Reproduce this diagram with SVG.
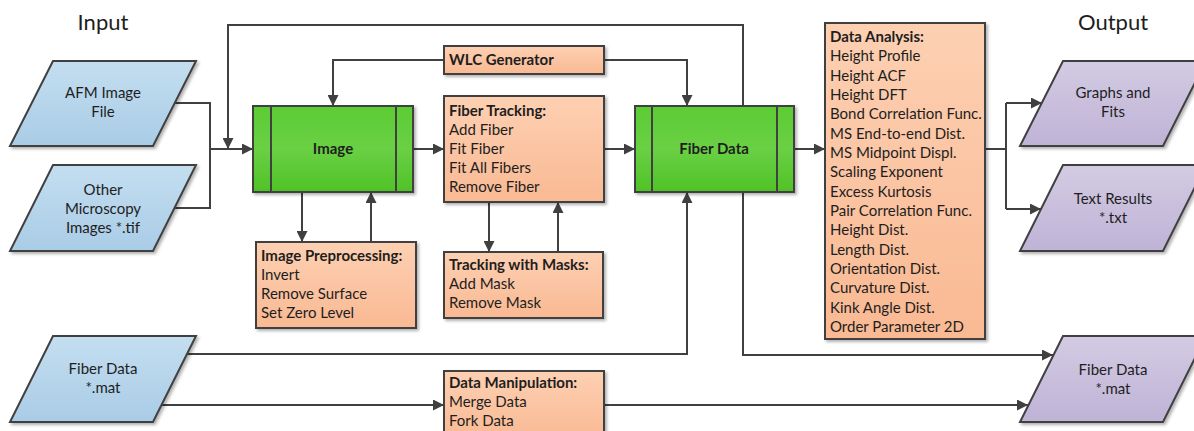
<svg xmlns="http://www.w3.org/2000/svg" width="1194" height="431" viewBox="0 0 1194 431">
  <defs>
    <linearGradient id="gBlue" x1="0" y1="0" x2="0" y2="1">
      <stop offset="0" stop-color="#c4def0"/>
      <stop offset="1" stop-color="#a9cce6"/>
    </linearGradient>
    <linearGradient id="gPurple" x1="0" y1="0" x2="0" y2="1">
      <stop offset="0" stop-color="#d3cbe3"/>
      <stop offset="1" stop-color="#bfb3d6"/>
    </linearGradient>
    <linearGradient id="gGreen" x1="0" y1="0" x2="0" y2="1">
      <stop offset="0" stop-color="#5ccc34"/>
      <stop offset="0.5" stop-color="#6ad044"/>
      <stop offset="1" stop-color="#4fc226"/>
    </linearGradient>
    <linearGradient id="gOrange" x1="0" y1="0" x2="0" y2="1">
      <stop offset="0" stop-color="#fdd0b2"/>
      <stop offset="1" stop-color="#f9b993"/>
    </linearGradient>
    <filter id="shadow" x="-10%" y="-10%" width="120%" height="130%">
      <feDropShadow dx="2" dy="2" stdDeviation="1.5" flood-color="#000" flood-opacity="0.3"/>
    </filter>
    <marker id="arrow" markerUnits="userSpaceOnUse" markerWidth="12" markerHeight="11" refX="11" refY="5.5" orient="auto">
      <path d="M0,0 L11,5.5 L0,11 z" fill="#404040"/>
    </marker>
  </defs>
  <style>
    .shape { stroke: #404040; stroke-width: 2; filter: url(#shadow); }
    .blue { fill: url(#gBlue); }
    .purple { fill: url(#gPurple); }
    .green { fill: url(#gGreen); }
    .orange { fill: url(#gOrange); }
    .divider { stroke: #404040; stroke-width: 2; }
    .conn { fill: none; stroke: #404040; stroke-width: 2; }
    text { font-family: Lato, "Liberation Sans", sans-serif; fill: #1e1e1e; font-size: 15px; }
    .title { font-size: 22px; text-anchor: middle; }
    .c { text-anchor: middle; }
    .b { font-weight: bold; }
  </style>

  <!-- column headings -->
  <text class="title" x="103" y="30">Input</text>
  <text class="title" x="1113" y="30">Output</text>

  <!-- connectors -->
  <g id="connectors">
    <path class="conn" d="M174,103 H210 V208 H174"/>
    <path class="conn" d="M210,149 H253" marker-end="url(#arrow)"/>
    <path class="conn" d="M743,106 V25 H228 V149" marker-end="url(#arrow)"/>
    <path class="conn" d="M444,60 H333 V106" marker-end="url(#arrow)"/>
    <path class="conn" d="M604,60 H687 V106" marker-end="url(#arrow)"/>
    <path class="conn" d="M413,149 H444" marker-end="url(#arrow)"/>
    <path class="conn" d="M604,149 H635" marker-end="url(#arrow)"/>
    <path class="conn" d="M794,149 H825" marker-end="url(#arrow)"/>
    <path class="conn" d="M302,192 V242" marker-end="url(#arrow)"/>
    <path class="conn" d="M371,242 V192" marker-end="url(#arrow)"/>
    <path class="conn" d="M489,202 V252" marker-end="url(#arrow)"/>
    <path class="conn" d="M558,252 V202" marker-end="url(#arrow)"/>
    <path class="conn" d="M187,354 H687 V192" marker-end="url(#arrow)"/>
    <path class="conn" d="M162,405 H444" marker-end="url(#arrow)"/>
    <path class="conn" d="M604,405 H1028" marker-end="url(#arrow)"/>
    <path class="conn" d="M743,192 V355 H1053" marker-end="url(#arrow)"/>
    <path class="conn" d="M985,149 H1006 M1006,103 V209"/>
    <path class="conn" d="M1006,103 H1042" marker-end="url(#arrow)"/>
    <path class="conn" d="M1006,209 H1041" marker-end="url(#arrow)"/>
  </g>

  <!-- inputs -->
  <g id="afm-image-file">
    <polygon class="shape blue" points="53,61 196,61 153,146 10,146"/>
    <text class="c" x="103" y="98">AFM Image</text>
    <text class="c" x="103" y="117">File</text>
  </g>
  <g id="other-microscopy">
    <polygon class="shape blue" points="53,165 196,165 153,251 10,251"/>
    <text class="c" x="103" y="195">Other</text>
    <text class="c" x="103" y="214">Microscopy</text>
    <text class="c" x="103" y="233">Images *.tif</text>
  </g>
  <g id="fiber-data-in">
    <polygon class="shape blue" points="53,336 196,336 153,422 10,422"/>
    <text class="c" x="103" y="374">Fiber Data</text>
    <text class="c" x="103" y="393">*.mat</text>
  </g>

  <!-- core data stores -->
  <g id="image">
    <rect class="shape green" x="253" y="106" width="160" height="86"/>
    <line class="divider" x1="271" y1="106" x2="271" y2="192"/>
    <line class="divider" x1="396" y1="106" x2="396" y2="192"/>
    <text class="c b" x="333" y="154">Image</text>
  </g>
  <g id="fiber-data">
    <rect class="shape green" x="635" y="106" width="159" height="86"/>
    <line class="divider" x1="652" y1="106" x2="652" y2="192"/>
    <line class="divider" x1="777" y1="106" x2="777" y2="192"/>
    <text class="c b" x="714" y="154">Fiber Data</text>
  </g>

  <!-- processing steps -->
  <g id="wlc-generator">
    <rect class="shape orange" x="444" y="46" width="160" height="28"/>
    <text class="b" x="449" y="65">WLC Generator</text>
  </g>
  <g id="fiber-tracking">
    <rect class="shape orange" x="444" y="96" width="160" height="106"/>
    <text class="b" x="449" y="116">Fiber Tracking:</text>
    <text x="449" y="135">Add Fiber</text>
    <text x="449" y="154">Fit Fiber</text>
    <text x="449" y="173">Fit All Fibers</text>
    <text x="449" y="192">Remove Fiber</text>
  </g>
  <g id="image-preprocessing">
    <rect class="shape orange" x="256" y="242" width="160" height="86"/>
    <text class="b" x="261" y="261">Image Preprocessing:</text>
    <text x="261" y="280">Invert</text>
    <text x="261" y="299">Remove Surface</text>
    <text x="261" y="318">Set Zero Level</text>
  </g>
  <g id="tracking-with-masks">
    <rect class="shape orange" x="444" y="252" width="159" height="66"/>
    <text class="b" x="449" y="270">Tracking with Masks:</text>
    <text x="449" y="289">Add Mask</text>
    <text x="449" y="308">Remove Mask</text>
  </g>
  <g id="data-manipulation">
    <rect class="shape orange" x="444" y="371" width="160" height="70"/>
    <text class="b" x="449" y="388">Data Manipulation:</text>
    <text x="449" y="407">Merge Data</text>
    <text x="449" y="426">Fork Data</text>
  </g>
  <g id="data-analysis">
    <rect class="shape orange" x="825" y="23" width="160" height="316"/>
    <text class="b" x="830" y="42">Data Analysis:</text>
    <text x="830" y="61.3">Height Profile</text>
    <text x="830" y="80.7">Height ACF</text>
    <text x="830" y="100">Height DFT</text>
    <text x="830" y="119.3">Bond Correlation Func.</text>
    <text x="830" y="138.7">MS End-to-end Dist.</text>
    <text x="830" y="158">MS Midpoint Displ.</text>
    <text x="830" y="177.3">Scaling Exponent</text>
    <text x="830" y="196.7">Excess Kurtosis</text>
    <text x="830" y="216">Pair Correlation Func.</text>
    <text x="830" y="235.3">Height Dist.</text>
    <text x="830" y="254.7">Length Dist.</text>
    <text x="830" y="274">Orientation Dist.</text>
    <text x="830" y="293.3">Curvature Dist.</text>
    <text x="830" y="312.7">Kink Angle Dist.</text>
    <text x="830" y="332">Order Parameter 2D</text>
  </g>

  <!-- outputs -->
  <g id="graphs-and-fits">
    <polygon class="shape purple" points="1063,61 1206,61 1163,146 1020,146"/>
    <text class="c" x="1113" y="98">Graphs and</text>
    <text class="c" x="1113" y="117">Fits</text>
  </g>
  <g id="text-results">
    <polygon class="shape purple" points="1063,165 1206,165 1163,251 1020,251"/>
    <text class="c" x="1113" y="204">Text Results</text>
    <text class="c" x="1113" y="223">*.txt</text>
  </g>
  <g id="fiber-data-out">
    <polygon class="shape purple" points="1063,336 1206,336 1163,422 1020,422"/>
    <text class="c" x="1113" y="375">Fiber Data</text>
    <text class="c" x="1113" y="394">*.mat</text>
  </g>
</svg>
